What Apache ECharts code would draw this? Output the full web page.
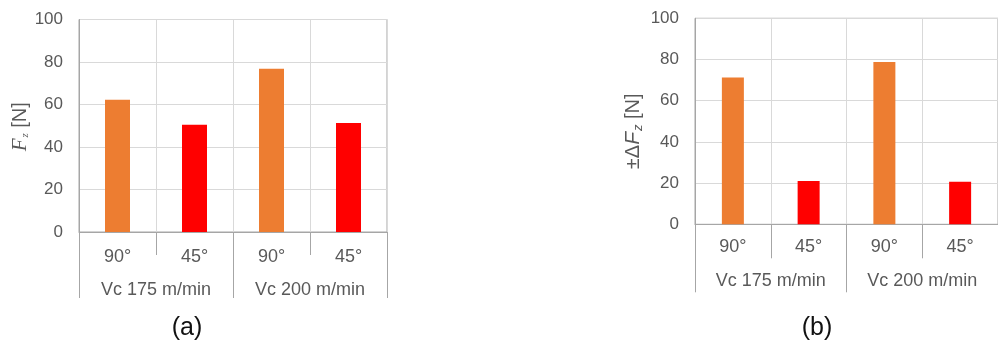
<!DOCTYPE html>
<html>
<head>
<meta charset="utf-8">
<script src="https://cdn.jsdelivr.net/npm/echarts@6/dist/echarts.min.js"></script>
<style>
html,body{margin:0;padding:0;background:#fff;}
#c{width:998px;height:345px;}
</style>
</head>
<body>
<div id="c"></div>
<script>
// ---- data ----
const categories = ['90°', '45°', '90°', '45°'];
const groups = ['Vc 175 m/min', 'Vc 200 m/min'];
const fzValues = [62.2, 50.5, 76.8, 51.3];
const dFzValues = [71.3, 21.0, 78.8, 20.7];
const yMin = 0, yMax = 100, yStep = 20;
const captions = ['(a)', '(b)'];

// ---- styles ----
const ORANGE = '#ED7D31', RED = '#FF0000';
const barColors = [ORANGE, RED, ORANGE, RED];
const TXT = '#595959', AXIS = '#A6A6A6', GRID = '#D9D9D9';
const FONT = 'Liberation Sans, Arial, sans-serif';

const chart = echarts.init(document.getElementById('c'), null, {renderer: 'canvas'});

function yAxisFor(gridIndex, name, rich, nameGap, namePad) {
  return {
    type: 'value', gridIndex: gridIndex, min: yMin, max: yMax, interval: yStep,
    axisLine: {show: true, lineStyle: {color: AXIS, width: 1}},
    axisTick: {show: false},
    splitLine: {show: true, lineStyle: {color: GRID, width: 1}},
    axisLabel: {color: TXT, fontSize: 17, fontFamily: FONT, margin: 16},
    name: name, nameLocation: 'middle', nameGap: nameGap,
    nameTextStyle: {color: TXT, fontSize: 20, fontFamily: FONT, rich: rich, padding: namePad}
  };
}

function xAxesFor(gridIndex, tickLen, lab1Margin, lab2Margin, groupLen) {
  return [{
    type: 'category', gridIndex: gridIndex, data: categories, position: 'bottom',
    axisLine: {show: true, lineStyle: {color: AXIS, width: 1}},
    axisTick: {show: true, length: tickLen, lineStyle: {color: AXIS, width: 1}},
    splitLine: {show: true, lineStyle: {color: GRID, width: 1}},
    axisLabel: {color: TXT, fontSize: 18, fontFamily: FONT, margin: lab1Margin}
  }, {
    type: 'category', gridIndex: gridIndex, data: groups, position: 'bottom',
    axisLine: {show: false},
    axisTick: {show: true, length: groupLen, lineStyle: {color: AXIS, width: 1}},
    splitLine: {show: false},
    axisLabel: {color: TXT, fontSize: 18, fontFamily: FONT, margin: lab2Margin}
  }];
}

const richA = {
  f: {fontFamily: 'Liberation Serif, Times New Roman, serif', fontStyle: 'italic', fontSize: 21, color: TXT},
  z: {fontFamily: 'Liberation Serif, Times New Roman, serif', fontStyle: 'italic', fontSize: 11, color: TXT, padding: [10, 0, 0, 1]},
  n: {fontFamily: FONT, fontSize: 20, color: TXT}
};
const richB = {
  f: {fontFamily: FONT, fontStyle: 'italic', fontSize: 21, color: TXT},
  z: {fontFamily: FONT, fontStyle: 'italic', fontSize: 13, color: TXT, padding: [10, 0, 0, 1]},
  n: {fontFamily: FONT, fontSize: 20, color: TXT}
};

const xA = xAxesFor(0, 23, 16, 49, 66);
const xB = xAxesFor(1, 34, 14, 48, 68);

const option = {
  animation: false,
  backgroundColor: '#ffffff',
  grid: [
    {left: 79, top: 19.5, width: 308, height: 212.5, show: true, borderColor: AXIS, borderWidth: 1, backgroundColor: 'transparent'},
    {left: 695, top: 18.3, width: 312, height: 206, show: true, borderColor: AXIS, borderWidth: 1, backgroundColor: 'transparent'}
  ],
  xAxis: [xA[0], xA[1], xB[0], xB[1]],
  yAxis: [
    yAxisFor(0, '{f|F}{z|z}{n| [N]}', richA, 47, [0, 2, 0, 0]),
    yAxisFor(1, '{n|±Δ}{f|F}{z|z}{n| [N]}', richB, 50, [0, 20, 0, 0])
  ],
  series: [{
    type: 'bar', xAxisIndex: 0, yAxisIndex: 0, data: fzValues, barWidth: 25,
    itemStyle: {color: p => barColors[p.dataIndex]}
  }, {
    type: 'bar', xAxisIndex: 2, yAxisIndex: 1, data: dFzValues, barWidth: 22,
    itemStyle: {color: p => barColors[p.dataIndex]}
  }],
  graphic: [
    {type: 'text', x: 187, y: 328, style: {text: captions[0], fontSize: 25, fontFamily: FONT, fill: '#111', align: 'center', verticalAlign: 'middle'}},
    {type: 'text', x: 817, y: 328, style: {text: captions[1], fontSize: 25, fontFamily: FONT, fill: '#111', align: 'center', verticalAlign: 'middle'}}
  ]
};
chart.setOption(option);
</script>
</body>
</html>
